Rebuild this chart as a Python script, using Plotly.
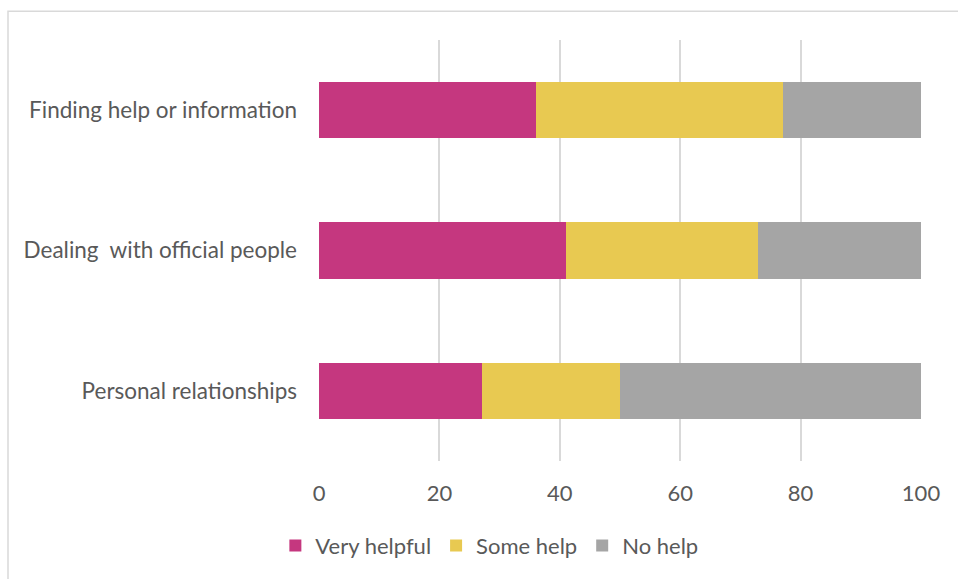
import plotly.graph_objects as go

categories = ["Finding help or information", "Dealing  with official people", "Personal relationships"]
very_helpful = [36, 41, 27]
some_help = [41, 32, 23]
no_help = [23, 27, 50]
x_ticks = [0, 20, 40, 60, 80, 100]

series = [
    ("Very helpful", very_helpful, "#C5377F"),
    ("Some help", some_help, "#E8C951"),
    ("No help", no_help, "#A5A5A5"),
]

fig = go.Figure()
for name, vals, color in series:
    fig.add_trace(go.Bar(
        y=categories, x=vals, name=name, orientation="h",
        marker=dict(color=color, line=dict(width=0)),
    ))

font_family = "Lato, 'Open Sans', sans-serif"
PW, PH = 602, 423
fig.update_layout(
    barmode="stack",
    bargap=0.6,
    width=958, height=579,
    margin=dict(l=319, r=37, t=40, b=116),
    paper_bgcolor="white",
    plot_bgcolor="white",
    font=dict(family=font_family, size=22, color="#595959"),
    xaxis=dict(
        range=[0, 100], tickvals=x_ticks, showgrid=True,
        gridcolor="#D9D9D9", gridwidth=2, zeroline=False,
        showline=False, ticks="", ticklabelstandoff=17,
        tickfont=dict(size=22, color="#595959"),
    ),
    yaxis=dict(
        categoryorder="array", categoryarray=categories,
        autorange="reversed", showgrid=False, zeroline=False,
        ticks="", ticklabelstandoff=21,
        tickfont=dict(size=22.5, color="#595959"),
    ),
    legend=dict(
        orientation="h", x=0.283, xanchor="center",
        y=-(548 - 463) / PH, yanchor="middle",
        font=dict(size=22, color="#595959"),
        itemwidth=30, traceorder="normal",
    ),
    showlegend=True,
    shapes=[dict(
        type="rect", xref="paper", yref="paper",
        x0=(8 - 319) / PW, x1=1 + (962 - 921) / PW,
        y0=-(590 - 463) / PH, y1=1 + (40 - 11) / PH,
        line=dict(color="#D9D9D9", width=1.5), fillcolor="rgba(0,0,0,0)",
        layer="below",
    )],
)

fig.write_html(
    "out.html",
    config={"displayModeBar": False},
    post_script="document.body.style.margin='0';",
)
